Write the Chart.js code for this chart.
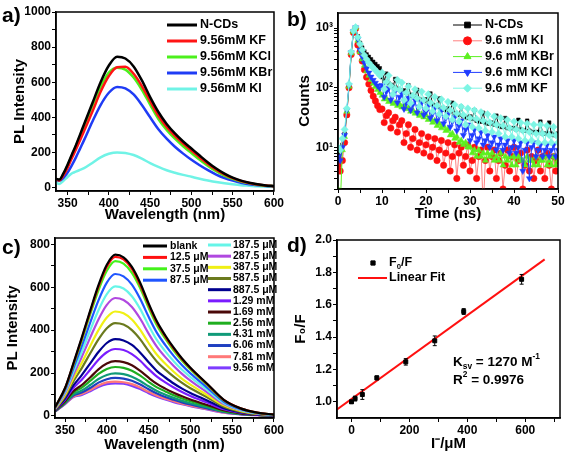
<!DOCTYPE html>
<html>
<head>
<meta charset="utf-8">
<script src="https://cdn.jsdelivr.net/npm/chart.js@4.4.0/dist/chart.umd.min.js"></script>
<style>
  body { margin: 0; background: #fff; }
  #fig { position: relative; width: 567px; height: 454px; overflow: hidden; }
  .panel { position: absolute; }
  .tag { position: absolute; font: bold 21px 'Liberation Sans', Arial, sans-serif; line-height: 1; }
</style>
</head>
<body>
<div id="fig">
  <div class="panel" style="left:0;top:0"><canvas id="chartA" width="285" height="225" style="width:285px;height:225px"></canvas></div>
  <div class="panel" style="left:285px;top:0"><canvas id="chartB" width="282" height="225" style="width:282px;height:225px"></canvas></div>
  <div class="panel" style="left:0;top:225px"><canvas id="chartC" width="285" height="229" style="width:285px;height:229px"></canvas></div>
  <div class="panel" style="left:285px;top:225px"><canvas id="chartD" width="282" height="229" style="width:282px;height:229px"></canvas></div>
  <div class="tag" style="left:2px;top:4px">a)</div>
  <div class="tag" style="left:287px;top:8px">b)</div>
  <div class="tag" style="left:2px;top:236px">c)</div>
  <div class="tag" style="left:287px;top:234px">d)</div>
</div>
<script>
const FONT = "'Liberation Sans', Arial, sans-serif";
Chart.defaults.font.family = FONT;
Chart.defaults.font.weight = 'bold';
Chart.defaults.color = '#000';
Chart.defaults.animation = false;

// ---- a) PL spectra with different halide salts ----
const wlA = [336, 340, 345, 350, 355, 360, 365, 370, 380, 390, 400, 410, 420, 430, 440, 450,
  460, 470, 480, 490, 500, 510, 520, 530, 540, 550, 560, 570, 580, 590, 600];
const plNCDs = [50, 45, 80, 130, 185, 240, 300, 360, 480, 600, 695, 745, 735, 690, 610, 515,
  430, 362, 308, 262, 222, 182, 143, 108, 79, 56, 39, 27, 18, 12, 8];
const plKF = [48, 40, 70, 112, 165, 215, 268, 322, 432, 545, 635, 685, 688, 648, 578, 492,
  408, 345, 294, 250, 210, 171, 134, 101, 74, 53, 37, 26, 17, 11, 7];
const plKCl = [48, 42, 76, 125, 180, 235, 292, 350, 465, 575, 655, 683, 672, 627, 557, 472,
  390, 328, 278, 235, 196, 158, 123, 93, 68, 49, 34, 24, 16, 10, 7];
const plKBr = [45, 38, 55, 85, 125, 170, 220, 270, 375, 470, 540, 573, 565, 530, 470, 400,
  332, 278, 232, 193, 158, 127, 99, 74, 54, 39, 27, 19, 13, 9, 6];
const plKI = [28, 20, 38, 60, 80, 90, 100, 110, 140, 172, 192, 200, 197, 185, 164, 139,
  117, 98, 84, 72, 61, 50, 40, 31, 24, 18, 13, 10, 7, 5, 3];
const namesA = ['N-CDs', '9.56mM KF', '9.56mM KCl', '9.56mM KBr', '9.56mM KI'];
const colorsA = ['#000000', '#ff1414', '#4cf01c', '#1f3cf5', '#70f3e6'];
const xTicksA = [350, 400, 450, 500, 550, 600], xMinorA = [375, 425, 475, 525, 575];
const yTicksA = [0, 200, 400, 600, 800, 1000], yMinorA = [100, 300, 500, 700, 900];

// ---- b) fluorescence decay ----
const timeNs = [0, 0.5, 1, 1.5, 2, 2.5, 3, 3.5, 4, 4.5, 5, 5.5, 6, 6.5, 7, 7.5, 8, 8.5, 9, 9.5,
  10, 10.5, 11, 11.5, 12, 12.5, 13, 13.5, 14, 14.5, 15, 15.5, 16, 16.5, 17, 17.5, 18, 18.5, 19, 19.5,
  20, 20.5, 21, 21.5, 22, 22.5, 23, 23.5, 24, 24.5, 25, 25.5, 26, 26.5, 27, 27.5, 28, 28.5, 29, 29.5,
  30, 30.5, 31, 31.5, 32, 32.5, 33, 33.5, 34, 34.5, 35, 35.5, 36, 36.5, 37, 37.5, 38, 38.5, 39, 39.5,
  40, 40.5, 41, 41.5, 42, 42.5, 43, 43.5, 44, 44.5, 45, 45.5, 46, 46.5, 47, 47.5, 48, 48.5, 49, 49.5, 50];
const decayNCDs = [8, 6, 11, 17, 38, 105, 370, 860, 1010, 730,
  565, 470, 405, 362, 330, 300, 272, 250, 230, 212,
  150, 130, 172, 118, 112, 104, 140, 96, 92, 88,
  90, 82, 110, 76, 72, 70, 92, 64, 62, 60,
  64, 57, 80, 52, 50, 48, 66, 44, 43, 42,
  45, 40, 56, 37, 36, 35, 48, 33, 32, 31,
  33, 30, 42, 28, 27, 27, 38, 26, 25, 25,
  26, 24, 34, 23, 22, 22, 31, 21, 21, 21,
  21, 20, 29, 20, 19, 19, 28, 19, 18, 18,
  18, 18, 27, 17, 17, 17, 26, 17, 16, 16, 17];
const decayKI = [5, 4, 6, 12, 35, 100, 360, 840, 980, 520,
  400, 280, 200, 150, 115, 90, 72, 60, 50, 43,
  44, 26, 34, 38, 21, 28, 32, 18, 24, 28,
  12, 17, 24, 10, 14, 20, 9, 12, 17, 8,
  11, 15, 7, 10, 14, 6, 9, 13, 5, 8,
  12, 4, 7, 11, 3, 8, 10, 5, 7, 11,
  4, 6, 10, 3, 7, 9, 1, 6, 10, 4,
  7, 9, 3, 6, 8, 2, 5, 9, 4, 7,
  10, 3, 6, 8, 2, 5, 9, 4, 7, 3,
  6, 9, 4, 7, 3, 8, 5, 2, 7, 4, 6];
const decayKBr = [2, 1, 9, 15, 40, 105, 380, 870, 1010, 620,
  400, 300, 236, 190, 160, 136, 118, 104, 92, 82,
  74, 64, 66, 58, 60, 54, 56, 50, 53, 47,
  50, 44, 46, 40, 42, 37, 39, 34, 36, 32,
  35, 29, 31, 26, 28, 23, 25, 21, 23, 19,
  20, 16, 17, 14, 15, 12, 13, 11, 12, 10,
  10, 8, 9, 7, 9, 7, 8, 6, 8, 7,
  8, 6, 7, 6, 8, 5, 7, 6, 7, 5,
  7, 5, 7, 6, 6, 5, 7, 6, 6, 5,
  7, 5, 6, 6, 7, 5, 6, 5, 7, 5, 6];
const decayKCl = [7, 6, 10, 16, 42, 110, 390, 880, 1020, 650,
  430, 330, 260, 210, 178, 152, 134, 120, 108, 98,
  110, 70, 86, 98, 62, 76, 88, 56, 70, 80,
  44, 55, 68, 42, 52, 62, 38, 48, 57, 35,
  40, 50, 31, 37, 46, 28, 34, 42, 25, 31,
  36, 22, 27, 32, 19, 23, 28, 16, 20, 24,
  13, 16, 20, 12, 14, 18, 11, 13, 16, 10,
  12, 15, 9, 11, 14, 9, 11, 13, 8, 10,
  13, 8, 10, 12, 4, 9, 12, 3, 10, 12,
  7, 9, 11, 7, 9, 11, 7, 9, 11, 7, 9];
const decayKF = [10, 9, 14, 20, 45, 115, 400, 900, 1040, 700,
  540, 430, 350, 300, 262, 236, 214, 196, 178, 160,
  180, 95, 125, 160, 108, 78, 96, 136, 92, 122,
  62, 82, 105, 55, 74, 94, 66, 48, 86, 62,
  45, 78, 56, 40, 70, 50, 36, 64, 46, 33,
  58, 42, 29, 52, 37, 27, 48, 35, 24, 45,
  31, 22, 42, 30, 21, 39, 28, 19, 36, 26,
  18, 33, 24, 17, 31, 23, 15, 29, 21, 15,
  27, 20, 14, 26, 19, 13, 25, 18, 13, 24,
  17, 12, 24, 17, 12, 23, 16, 12, 22, 16, 12];
const namesB = ['N-CDs', '9.6 mM KI', '9.6 mM KBr', '9.6 mM KCl', '9.6 mM KF'];
const colorsB = ['#000000', '#ff1010', '#5cf020', '#1f3cff', '#7df5e4'];
const lineColorsB = ['#000000', '#ff8080', '#5cf020', '#1f3cff', '#7df5e4'];
const markersB = ['rect', 'circle', 'triangle', 'triangle', 'rectRot'];
const xTicksB = [0, 10, 20, 30, 40, 50], xMinorB = [5, 15, 25, 35, 45];
const yTicksB = [10, 100, 1000], yMinorB = [2, 3, 4, 5, 6, 7, 8, 9, 20, 30, 40, 50, 60, 70, 80, 90, 200, 300, 400, 500, 600, 700, 800, 900];

// ---- c) PL spectra vs iodide concentration ----
const wlC = [338, 350, 360, 370, 380, 390, 400, 410, 420, 430, 440, 450, 460, 470, 480, 490, 500, 520, 540, 560, 580, 600];
const cBlank = [40, 130, 245, 365, 490, 610, 705, 752, 740, 695, 620, 525, 440, 375, 318, 268, 225, 150, 75, 35, 15, 6];
const c12p5 = [39, 128, 242, 360, 484, 602, 696, 742, 730, 686, 611, 518, 434, 370, 314, 264, 222, 148, 74, 35, 15, 6];
const c37p5 = [39, 126, 237, 351, 472, 586, 677, 722, 710, 667, 595, 504, 422, 360, 305, 257, 216, 144, 72, 34, 14, 6];
const c87p5 = [37, 119, 222, 325, 434, 539, 622, 662, 651, 612, 545, 462, 387, 330, 280, 236, 198, 132, 66, 31, 13, 5];
const c187p5 = [35, 112, 206, 299, 398, 493, 568, 604, 594, 558, 498, 422, 353, 301, 255, 215, 181, 121, 60, 28, 12, 5];
const c287p5 = [33, 105, 192, 275, 364, 450, 518, 550, 541, 508, 453, 384, 322, 274, 233, 196, 164, 110, 55, 26, 11, 4];
const c387p5 = [31, 97, 176, 247, 325, 400, 459, 487, 479, 450, 401, 340, 285, 243, 206, 173, 146, 97, 49, 23, 10, 4];
const c587p5 = [29, 90, 161, 223, 291, 357, 409, 433, 426, 400, 357, 302, 253, 216, 183, 154, 129, 87, 43, 20, 9, 3];
const c887p5 = [27, 81, 142, 190, 244, 298, 340, 358, 352, 331, 295, 250, 209, 179, 151, 127, 107, 72, 36, 17, 7, 3];
const c1p29 = [26, 75, 130, 169, 215, 262, 297, 312, 307, 288, 257, 218, 183, 156, 132, 111, 93, 62, 31, 15, 6, 2];
const c1p69 = [23, 68, 115, 144, 179, 217, 244, 255, 251, 236, 210, 178, 149, 127, 108, 91, 76, 51, 26, 12, 5, 2];
const c2p56 = [23, 64, 108, 132, 163, 196, 219, 228, 224, 211, 188, 159, 133, 114, 96, 81, 68, 46, 23, 11, 5, 2];
const c4p31 = [22, 61, 100, 118, 144, 172, 191, 198, 195, 183, 163, 138, 116, 99, 84, 70, 59, 40, 20, 9, 4, 2];
const c6p06 = [21, 58, 95, 109, 130, 155, 171, 177, 174, 164, 146, 124, 104, 88, 75, 63, 53, 35, 18, 8, 4, 1];
const c7p81 = [20, 56, 90, 102, 120, 142, 156, 160, 157, 148, 132, 112, 94, 80, 68, 57, 48, 32, 16, 8, 3, 1];
const c9p56 = [20, 55, 88, 98, 115, 135, 148, 152, 150, 140, 125, 106, 89, 76, 64, 54, 45, 30, 15, 7, 3, 1];
const seriesC = [cBlank, c12p5, c37p5, c87p5, c187p5, c287p5, c387p5, c587p5, c887p5,
  c1p29, c1p69, c2p56, c4p31, c6p06, c7p81, c9p56];
const namesC = ['blank', '12.5 μM', '37.5 μM', '87.5 μM', '187.5 μM', '287.5 μM', '387.5 μM', '587.5 μM',
  '887.5 μM', '1.29 mM', '1.69 mM', '2.56 mM', '4.31 mM', '6.06 mM', '7.81 mM', '9.56 mM'];
const colorsC = ['#000000', '#ff1010', '#44f21a', '#1f55ff', '#66f5e8', '#b048e0', '#f0f014', '#6b7a1e',
  '#00008f', '#7a1cff', '#4a0808', '#1fae1f', '#109a78', '#1f3fc0', '#ff7878', '#7e3cff'];
const yTicksC = [0, 200, 400, 600, 800], yMinorC = [100, 300, 500, 700];

// ---- d) Stern-Volmer plot ----
const iodideUM = [0, 12.5, 37.5, 87.5, 187.5, 287.5, 387.5, 587.5];
const f0OverF = [1.0, 1.02, 1.045, 1.148, 1.247, 1.377, 1.558, 1.757];
const f0Err = [0.01, 0.015, 0.03, 0.012, 0.02, 0.03, 0.018, 0.03];
const fitX = [-50, 667];
const fitY = [0.953, 1.88];
const xTicksD = [0, 200, 400, 600], xMinorD = [100, 300, 500, 700];
const yTicksD = [1.0, 1.2, 1.4, 1.6, 1.8, 2.0], yMinorD = [1.1, 1.3, 1.5, 1.7, 1.9];

// ---------- helpers ----------
function drawRich(ctx, label, x, y, size) {
  const segs = Array.isArray(label) ? label : [{ t: label }];
  let cx = x;
  segs.forEach(s => {
    const small = s.sub || s.sup;
    const fs = small ? size * 0.62 : size;
    ctx.font = `bold ${fs}px ${FONT}`;
    const dy = s.sub ? size * 0.32 : s.sup ? -size * 0.36 : 0;
    ctx.fillText(s.t, cx, y + dy);
    cx += ctx.measureText(s.t).width;
  });
}

const insetLegend = {
  id: 'insetLegend',
  afterDraw(chart, args, opts) {
    const ctx = chart.ctx;
    ctx.save();
    ctx.textBaseline = 'middle';
    ctx.textAlign = 'left';
    (opts.items || []).forEach(it => {
      if (it.lineWidth) {
        ctx.strokeStyle = it.lineColor || it.color;
        ctx.lineWidth = it.lineWidth;
        ctx.beginPath();
        ctx.moveTo(it.x0, it.y);
        ctx.lineTo(it.x1, it.y);
        ctx.stroke();
      }
      if (it.point) {
        ctx.fillStyle = it.color;
        ctx.strokeStyle = it.color;
        Chart.helpers.drawPoint(ctx, { pointStyle: it.point, radius: it.radius || 3, rotation: it.rotation || 0, borderWidth: 1 },
          it.px !== undefined ? it.px : (it.x0 + it.x1) / 2, it.y);
      }
      ctx.fillStyle = '#000';
      if (it.label) drawRich(ctx, it.label, it.tx, it.y, opts.size || 12);
    });
    (opts.notes || []).forEach(n => {
      ctx.fillStyle = '#000';
      drawRich(ctx, n.label, n.x, n.y, n.size);
    });
    ctx.restore();
  }
};

const frame = {
  id: 'frame',
  afterDraw(chart) {
    const { ctx, chartArea: a } = chart;
    ctx.save();
    ctx.strokeStyle = '#000';
    ctx.lineWidth = 1.5;
    ctx.strokeRect(a.left, a.top, a.right - a.left, a.bottom - a.top);
    ctx.restore();
  }
};

const errorBars = {
  id: 'errorBars',
  afterDatasetsDraw(chart) {
    const ds = chart.data.datasets[0];
    if (!ds.errors) return;
    const meta = chart.getDatasetMeta(0);
    const ys = chart.scales.y;
    const ctx = chart.ctx;
    ctx.save();
    ctx.strokeStyle = '#000';
    ctx.lineWidth = 1;
    meta.data.forEach((pt, i) => {
      const top = ys.getPixelForValue(ds.data[i].y + ds.errors[i]);
      const bot = ys.getPixelForValue(ds.data[i].y - ds.errors[i]);
      ctx.beginPath();
      ctx.moveTo(pt.x, top); ctx.lineTo(pt.x, bot);
      ctx.moveTo(pt.x - 2, top); ctx.lineTo(pt.x + 2, top);
      ctx.moveTo(pt.x - 2, bot); ctx.lineTo(pt.x + 2, bot);
      ctx.stroke();
    });
    ctx.restore();
  }
};

function axis(o) {
  return {
    type: o.type || 'linear',
    min: o.min,
    max: o.max,
    afterFit: s => { if (s.isHorizontal()) s.height = o.size; else s.width = o.size; },
    afterBuildTicks: s => {
      s.ticks = o.major.concat(o.minor).sort((p, q) => p - q).map(v => ({ value: v }));
    },
    ticks: {
      autoSkip: false, maxRotation: 0, minRotation: 0, padding: 1, color: '#000',
      font: { size: 12, weight: 'bold' },
      callback: v => (o.major.includes(v) ? o.fmt(v) : '')
    },
    grid: { drawOnChartArea: false, drawTicks: true, tickLength: 4, color: '#000', lineWidth: 1 },
    border: { display: true, color: '#000', width: 1.5 },
    title: { display: true, text: o.title, color: '#000', font: { size: 15, weight: 'bold' }, padding: o.tpad }
  };
}

function baseOptions(pad, scales, pluginOpts) {
  return {
    responsive: false,
    maintainAspectRatio: false,
    devicePixelRatio: 1,
    animation: false,
    layout: { padding: pad },
    scales: scales,
    plugins: Object.assign({ legend: { display: false }, tooltip: { enabled: false } }, pluginOpts)
  };
}

const pairs = (xs, ys) => xs.map((x, i) => ({ x: x, y: ys[i] }));

// ---------- a) ----------
new Chart(document.getElementById('chartA'), {
  type: 'line',
  data: {
    datasets: [plNCDs, plKF, plKCl, plKBr, plKI].map((ys, i) => ({
      label: namesA[i], data: pairs(wlA, ys), borderColor: colorsA[i], borderWidth: 2.5,
      pointRadius: 0, cubicInterpolationMode: 'monotone', fill: false
    }))
  },
  options: baseOptions({ left: 0, right: 8, top: 12, bottom: 0 }, {
    x: axis({ min: 336, max: 600, major: xTicksA, minor: xMinorA, fmt: v => String(v), size: 34,
      title: 'Wavelength (nm)', tpad: { top: 0, bottom: 1.5 } }),
    y: axis({ min: -20, max: 1000, major: yTicksA, minor: yMinorA, fmt: v => String(v), size: 56,
      title: 'PL Intensity', tpad: { top: 11, bottom: 0 } })
  }, {
    insetLegend: {
      size: 12.5,
      items: namesA.map((n, i) => ({ label: n, color: colorsA[i], lineWidth: 3, x0: 167, x1: 197, tx: 200, y: 25 + 16 * i }))
    }
  }),
  plugins: [frame, insetLegend]
});

// ---------- b) ----------
const decays = [decayNCDs, decayKI, decayKBr, decayKCl, decayKF];
const drawOrderB = [4, 3, 2, 1, 0];
const radiusB = [2.5, 3.2, 3.5, 3.5, 3.6];
new Chart(document.getElementById('chartB'), {
  type: 'line',
  data: {
    datasets: decays.map((ys, i) => ({
      label: namesB[i], data: pairs(timeNs, ys), order: drawOrderB[i],
      borderColor: lineColorsB[i], borderWidth: 1,
      pointStyle: markersB[i], pointRotation: i === 3 ? 180 : 0,
      pointRadius: radiusB[i], pointBorderWidth: 0.5,
      pointBackgroundColor: colorsB[i], pointBorderColor: colorsB[i], tension: 0
    }))
  },
  options: baseOptions({ left: 0, right: 9, top: 13, bottom: 0 }, {
    x: axis({ min: 0, max: 50, major: xTicksB, minor: xMinorB, fmt: v => String(v), size: 36,
      title: 'Time (ns)', tpad: { top: 0, bottom: 2 } }),
    y: axis({ type: 'logarithmic', min: 2, max: 1790, major: yTicksB, minor: yMinorB,
      fmt: v => ({ 10: '10¹', 100: '10²', 1000: '10³' })[v], size: 53,
      title: 'Counts', tpad: { top: 11, bottom: 0 } })
  }, {
    insetLegend: {
      size: 12.5,
      items: namesB.map((n, i) => ({
        label: n, color: colorsB[i], lineColor: lineColorsB[i], lineWidth: 1, x0: 168, x1: 197,
        point: markersB[i], rotation: i === 3 ? 180 : 0, radius: 4, tx: 200, y: 25 + 15.8 * i
      }))
    }
  }),
  plugins: [frame, insetLegend]
});

// ---------- c) ----------
new Chart(document.getElementById('chartC'), {
  type: 'line',
  data: {
    datasets: seriesC.map((ys, i) => ({
      label: namesC[i], data: pairs(wlC, ys), borderColor: colorsC[i], borderWidth: 2.2,
      pointRadius: 0, cubicInterpolationMode: 'monotone', fill: false
    }))
  },
  options: baseOptions({ left: 0, right: 8, top: 13, bottom: 0 }, {
    x: axis({ min: 338, max: 600, major: xTicksA, minor: xMinorA, fmt: v => String(v), size: 36,
      title: 'Wavelength (nm)', tpad: { top: 0, bottom: 0 } }),
    y: axis({ min: -10, max: 830, major: yTicksC, minor: yMinorC, fmt: v => String(v), size: 55,
      title: 'PL Intensity', tpad: { top: 4, bottom: 0 } })
  }, {
    insetLegend: {
      size: 10.5,
      items: namesC.map((n, i) => i < 4
        ? { label: n, color: colorsC[i], lineWidth: 3, x0: 143, x1: 167, tx: 170, y: 21 + 11.4 * i }
        : { label: n, color: colorsC[i], lineWidth: 3, x0: 208, x1: 231, tx: 233, y: 20 + 11.17 * (i - 4) })
    }
  }),
  plugins: [frame, insetLegend]
});

// ---------- d) ----------
new Chart(document.getElementById('chartD'), {
  type: 'scatter',
  data: {
    datasets: [
      { label: 'F0/F', data: pairs(iodideUM, f0OverF), errors: f0Err, pointStyle: 'rect', pointRadius: 2.8,
        backgroundColor: '#000', borderColor: '#000', order: 0 },
      { label: 'Linear Fit', data: pairs(fitX, fitY), showLine: true, borderColor: '#ff1010', borderWidth: 2,
        pointRadius: 0, order: 1 }
    ]
  },
  options: baseOptions({ left: 0, right: 7, top: 15, bottom: 0 }, {
    x: axis({ min: -50, max: 720, major: xTicksD, minor: xMinorD, fmt: v => String(v), size: 36,
      title: 'I⁻/μM', tpad: { top: 0, bottom: 1.5 } }),
    y: axis({ min: 0.9, max: 2.0, major: yTicksD, minor: yMinorD, fmt: v => v.toFixed(1), size: 52,
      title: 'F₀/F', tpad: { top: 7, bottom: 0 } })
  }, {
    insetLegend: {
      size: 12.5,
      items: [
        { label: [{ t: 'F' }, { t: '0', sub: true }, { t: '/F' }], color: '#000', point: 'rect', radius: 3, px: 88, tx: 104, y: 38 },
        { label: 'Linear Fit', color: '#ff1010', lineWidth: 2, x0: 73, x1: 102, tx: 104, y: 53 }
      ],
      notes: [
        { label: [{ t: 'K' }, { t: 'sv', sub: true }, { t: ' = 1270 M' }, { t: '-1', sup: true }], x: 168, y: 137, size: 13.5 },
        { label: [{ t: 'R' }, { t: '2', sup: true }, { t: ' = 0.9976' }], x: 168, y: 155, size: 13.5 }
      ]
    }
  }),
  plugins: [frame, insetLegend, errorBars]
});
</script>
</body>
</html>
